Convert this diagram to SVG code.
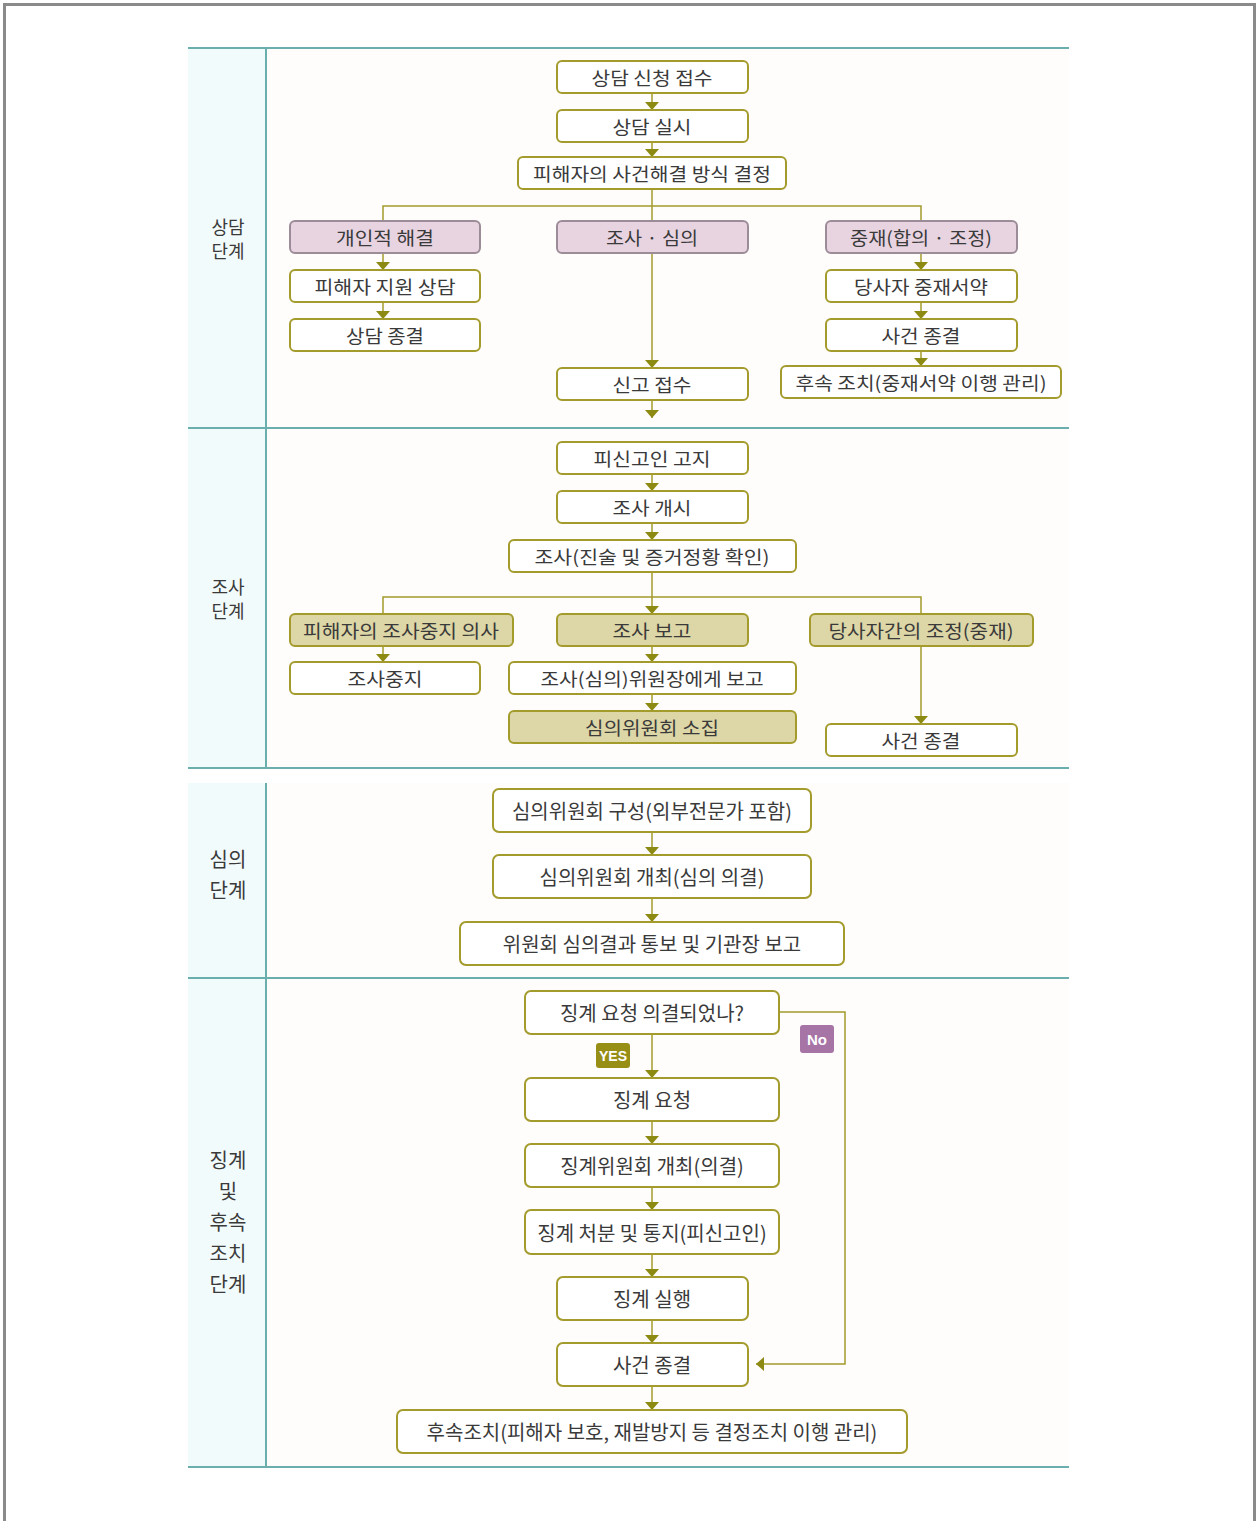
<svg xmlns="http://www.w3.org/2000/svg" width="1259" height="1521" viewBox="0 0 1259 1521">
<defs>
<style>
.bx{fill:#fff;stroke:#a39b2c;stroke-width:2}
.pk{fill:#e8d4e1;stroke:#9c8c98;stroke-width:2}
.ol{fill:#ddd6a6;stroke:#a39b2c;stroke-width:2}
.t{font-family:"Noto Sans CJK KR","Noto Sans",sans-serif;font-size:18px;fill:#3a3a3a;text-anchor:middle;dominant-baseline:central}
.t2{font-family:"Noto Sans CJK KR","Noto Sans",sans-serif;font-size:20px;fill:#3a3a3a;text-anchor:middle;dominant-baseline:central}
.st{font-family:"Noto Sans CJK KR","Noto Sans",sans-serif;font-size:18px;fill:#3a3a3a;text-anchor:middle;dominant-baseline:central}
.st2{font-family:"Noto Sans CJK KR","Noto Sans",sans-serif;font-size:20px;fill:#3a3a3a;text-anchor:middle;dominant-baseline:central}
.ln{fill:none;stroke:#a39b2c;stroke-width:1.5}
.ar{fill:none;stroke:#a39b2c;stroke-width:1.5;marker-end:url(#ah)}
.tl{stroke:#6aaeae;stroke-width:2}
.badge{font-family:"Liberation Sans",Arial,sans-serif;font-weight:bold;fill:#fff;text-anchor:middle;dominant-baseline:central}
</style>
<marker id="ah" markerUnits="userSpaceOnUse" markerWidth="8" markerHeight="14" refX="8" refY="7" orient="auto">
<path d="M0,0 L8,7 L0,14 z" fill="#8c8a12"/>
</marker>
</defs>

<rect x="0" y="0" width="1259" height="1521" fill="#fff"/>
<rect x="4.5" y="4.5" width="1250" height="1530" fill="none" stroke="#8a8a8a" stroke-width="3"/>

<g id="background">
<rect x="188" y="48" width="78" height="720" fill="#f2fbfb"/>
<rect x="188" y="783" width="78" height="684" fill="#f2fbfb"/>
<rect x="266" y="48" width="803" height="720" fill="#fffcfc"/>
<rect x="266" y="783" width="803" height="684" fill="#fffcfc"/>
<line class="tl" x1="188" y1="48" x2="1069" y2="48"/>
<line class="tl" x1="188" y1="428" x2="1069" y2="428" stroke-width="1.5"/>
<line class="tl" x1="188" y1="768" x2="1069" y2="768" stroke-width="1.5"/>
<line class="tl" x1="188" y1="978" x2="1069" y2="978" stroke-width="1.5"/>
<line class="tl" x1="188" y1="1467" x2="1069" y2="1467" stroke-width="2.5"/>
<line class="tl" x1="266" y1="48" x2="266" y2="768" stroke-width="1.5"/>
<line class="tl" x1="266" y1="783" x2="266" y2="1467" stroke-width="1.5"/>
</g>

<g id="stage-labels">
<text class="st" x="228" y="226">상담</text>
<text class="st" x="228" y="250">단계</text>
<text class="st" x="228" y="586">조사</text>
<text class="st" x="228" y="610">단계</text>
<text class="st2" x="228" y="858">심의</text>
<text class="st2" x="228" y="889">단계</text>
<text class="st2" x="228" y="1159">징계</text>
<text class="st2" x="228" y="1190">및</text>
<text class="st2" x="228" y="1221">후속</text>
<text class="st2" x="228" y="1252">조치</text>
<text class="st2" x="228" y="1283">단계</text>
</g>

<g id="connectors">
<line class="ar" x1="652" y1="93" x2="652" y2="110"/>
<line class="ar" x1="652" y1="142" x2="652" y2="157"/>
<polyline class="ln" points="652,189 652,221"/>
<polyline class="ln" points="383,221 383,206 921,206 921,221"/>
<line class="ar" x1="383" y1="253" x2="383" y2="270"/>
<line class="ar" x1="383" y1="302" x2="383" y2="319"/>
<line class="ar" x1="652" y1="253" x2="652" y2="368"/>
<line class="ar" x1="921" y1="253" x2="921" y2="270"/>
<line class="ar" x1="921" y1="302" x2="921" y2="319"/>
<line class="ar" x1="921" y1="351" x2="921" y2="366"/>
<line class="ar" x1="652" y1="400" x2="652" y2="418"/>

<line class="ar" x1="652" y1="474" x2="652" y2="491"/>
<line class="ar" x1="652" y1="523" x2="652" y2="540"/>
<line class="ar" x1="652" y1="572" x2="652" y2="614"/>
<polyline class="ln" points="383,614 383,597 921,597 921,614"/>
<line class="ar" x1="383" y1="646" x2="383" y2="662"/>
<line class="ar" x1="652" y1="646" x2="652" y2="662"/>
<line class="ar" x1="652" y1="694" x2="652" y2="711"/>
<line class="ar" x1="921" y1="646" x2="921" y2="724"/>

<line class="ar" x1="652" y1="832" x2="652" y2="855"/>
<line class="ar" x1="652" y1="898" x2="652" y2="922"/>

<line class="ar" x1="652" y1="1034" x2="652" y2="1078"/>
<polyline class="ar" points="779,1012 845,1012 845,1364 756,1364"/>
<line class="ar" x1="652" y1="1121" x2="652" y2="1144"/>
<line class="ar" x1="652" y1="1187" x2="652" y2="1210"/>
<line class="ar" x1="652" y1="1254" x2="652" y2="1277"/>
<line class="ar" x1="652" y1="1320" x2="652" y2="1343"/>
<line class="ar" x1="652" y1="1386" x2="652" y2="1410"/>
</g>

<g id="n1"><rect class="bx" x="557" y="61" width="191" height="32" rx="5"/><text class="t" x="652" y="77" textLength="121" lengthAdjust="spacingAndGlyphs">상담 신청 접수</text></g>
<g id="n2"><rect class="bx" x="557" y="110" width="191" height="32" rx="5"/><text class="t" x="652" y="126" textLength="79" lengthAdjust="spacingAndGlyphs">상담 실시</text></g>
<g id="n3"><rect class="bx" x="518" y="157" width="268" height="32" rx="5"/><text class="t" x="652" y="173" textLength="238" lengthAdjust="spacingAndGlyphs">피해자의 사건해결 방식 결정</text></g>
<g id="n4"><rect class="pk" x="290" y="221" width="190" height="32" rx="5"/><text class="t" x="385" y="237" textLength="98" lengthAdjust="spacingAndGlyphs">개인적 해결</text></g>
<g id="n5"><rect class="pk" x="557" y="221" width="191" height="32" rx="5"/><text class="t" x="652" y="237" textLength="92" lengthAdjust="spacingAndGlyphs">조사 · 심의</text></g>
<g id="n6"><rect class="pk" x="826" y="221" width="191" height="32" rx="5"/><text class="t" x="921" y="237" textLength="142" lengthAdjust="spacingAndGlyphs">중재(합의 · 조정)</text></g>
<g id="n7"><rect class="bx" x="290" y="270" width="190" height="32" rx="5"/><text class="t" x="385" y="286" textLength="141" lengthAdjust="spacingAndGlyphs">피해자 지원 상담</text></g>
<g id="n8"><rect class="bx" x="290" y="319" width="190" height="32" rx="5"/><text class="t" x="385" y="335" textLength="78" lengthAdjust="spacingAndGlyphs">상담 종결</text></g>
<g id="n9"><rect class="bx" x="826" y="270" width="191" height="32" rx="5"/><text class="t" x="921" y="286" textLength="134" lengthAdjust="spacingAndGlyphs">당사자 중재서약</text></g>
<g id="n10"><rect class="bx" x="826" y="319" width="191" height="32" rx="5"/><text class="t" x="921" y="335" textLength="79" lengthAdjust="spacingAndGlyphs">사건 종결</text></g>
<g id="n11"><rect class="bx" x="781" y="366" width="280" height="32" rx="5"/><text class="t" x="921" y="382" textLength="251" lengthAdjust="spacingAndGlyphs">후속 조치(중재서약 이행 관리)</text></g>
<g id="n12"><rect class="bx" x="557" y="368" width="191" height="32" rx="5"/><text class="t" x="652" y="384" textLength="79" lengthAdjust="spacingAndGlyphs">신고 접수</text></g>

<g id="n13"><rect class="bx" x="557" y="442" width="191" height="32" rx="5"/><text class="t" x="652" y="458" textLength="117" lengthAdjust="spacingAndGlyphs">피신고인 고지</text></g>
<g id="n14"><rect class="bx" x="557" y="491" width="191" height="32" rx="5"/><text class="t" x="652" y="507" textLength="79" lengthAdjust="spacingAndGlyphs">조사 개시</text></g>
<g id="n15"><rect class="bx" x="509" y="540" width="287" height="32" rx="5"/><text class="t" x="652" y="556" textLength="235" lengthAdjust="spacingAndGlyphs">조사(진술 및 증거정황 확인)</text></g>
<g id="n16"><rect class="ol" x="290" y="614" width="223" height="32" rx="5"/><text class="t" x="401" y="630" textLength="196" lengthAdjust="spacingAndGlyphs">피해자의 조사중지 의사</text></g>
<g id="n17"><rect class="ol" x="557" y="614" width="191" height="32" rx="5"/><text class="t" x="652" y="630" textLength="79" lengthAdjust="spacingAndGlyphs">조사 보고</text></g>
<g id="n18"><rect class="ol" x="810" y="614" width="223" height="32" rx="5"/><text class="t" x="921" y="630" textLength="185" lengthAdjust="spacingAndGlyphs">당사자간의 조정(중재)</text></g>
<g id="n19"><rect class="bx" x="290" y="662" width="190" height="32" rx="5"/><text class="t" x="385" y="678" textLength="75" lengthAdjust="spacingAndGlyphs">조사중지</text></g>
<g id="n20"><rect class="bx" x="509" y="662" width="287" height="32" rx="5"/><text class="t" x="652" y="678" textLength="223" lengthAdjust="spacingAndGlyphs">조사(심의)위원장에게 보고</text></g>
<g id="n21"><rect class="ol" x="509" y="711" width="287" height="32" rx="5"/><text class="t" x="652" y="727" textLength="134" lengthAdjust="spacingAndGlyphs">심의위원회 소집</text></g>
<g id="n22"><rect class="bx" x="826" y="724" width="191" height="32" rx="5"/><text class="t" x="921" y="740" textLength="79" lengthAdjust="spacingAndGlyphs">사건 종결</text></g>

<g id="n23"><rect class="bx" x="493" y="789" width="318" height="43" rx="6"/><text class="t2" x="652" y="810">심의위원회 구성(외부전문가 포함)</text></g>
<g id="n24"><rect class="bx" x="493" y="855" width="318" height="43" rx="6"/><text class="t2" x="652" y="876">심의위원회 개최(심의 의결)</text></g>
<g id="n25"><rect class="bx" x="460" y="922" width="384" height="43" rx="6"/><text class="t2" x="652" y="943">위원회 심의결과 통보 및 기관장 보고</text></g>

<g id="n26"><rect class="bx" x="525" y="991" width="254" height="43" rx="6"/><text class="t2" x="652" y="1012">징계 요청 의결되었나?</text></g>
<g id="yes"><rect x="596" y="1043" width="34" height="25" rx="3" fill="#978e16"/><text class="badge" x="613" y="1056" font-size="14">YES</text></g>
<g id="no"><rect x="800" y="1025" width="34" height="28" rx="3" fill="#a774a6"/><text class="badge" x="817" y="1039" font-size="15">No</text></g>
<g id="n27"><rect class="bx" x="525" y="1078" width="254" height="43" rx="6"/><text class="t2" x="652" y="1099">징계 요청</text></g>
<g id="n28"><rect class="bx" x="525" y="1144" width="254" height="43" rx="6"/><text class="t2" x="652" y="1165">징계위원회 개최(의결)</text></g>
<g id="n29"><rect class="bx" x="525" y="1210" width="254" height="44" rx="6"/><text class="t2" x="652" y="1232">징계 처분 및 통지(피신고인)</text></g>
<g id="n30"><rect class="bx" x="557" y="1277" width="191" height="43" rx="6"/><text class="t2" x="652" y="1298">징계 실행</text></g>
<g id="n31"><rect class="bx" x="557" y="1343" width="191" height="43" rx="6"/><text class="t2" x="652" y="1364">사건 종결</text></g>
<g id="n32"><rect class="bx" x="397" y="1410" width="510" height="43" rx="6"/><text class="t2" x="652" y="1431">후속조치(피해자 보호, 재발방지 등 결정조치 이행 관리)</text></g>
</svg>
